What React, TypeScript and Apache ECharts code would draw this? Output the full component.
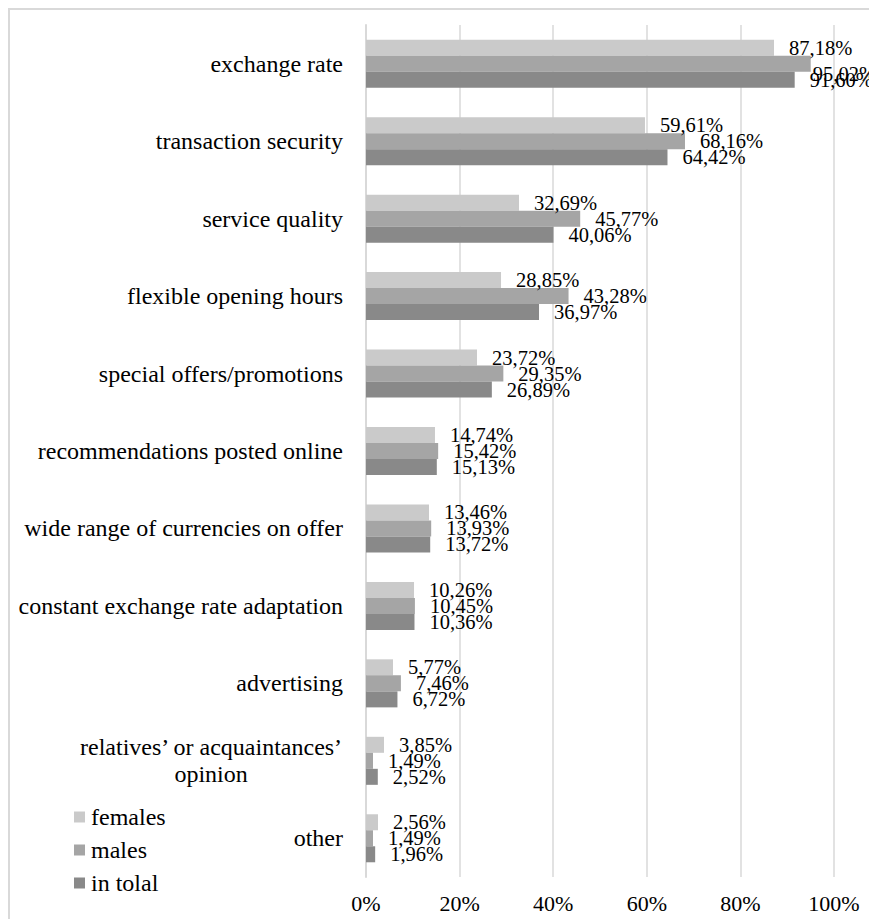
import React, { useEffect, useRef } from "react";
import * as echarts from "echarts";

const categories = [
  "exchange rate",
  "transaction security",
  "service quality",
  "flexible opening hours",
  "special offers/promotions",
  "recommendations posted online",
  "wide range of currencies on offer",
  "constant exchange rate adaptation",
  "advertising",
  "relatives’ or acquaintances’ opinion",
  "other",
];

const females = [87.18, 59.61, 32.69, 28.85, 23.72, 14.74, 13.46, 10.26, 5.77, 3.85, 2.56];
const males = [95.02, 68.16, 45.77, 43.28, 29.35, 15.42, 13.93, 10.45, 7.46, 1.49, 1.49];
const total = [91.6, 64.42, 40.06, 36.97, 26.89, 15.13, 13.72, 10.36, 6.72, 2.52, 1.96];

const xTicks = [0, 20, 40, 60, 80, 100];

const seriesNames = ["females", "males", "in tolal"];
const seriesColors = ["#cacaca", "#a5a5a5", "#898989"];

const FONT = "Times New Roman, Liberation Serif, serif";

export default function App() {
  const ref = useRef<HTMLDivElement>(null);

  useEffect(() => {
    document.documentElement.style.overflow = "hidden";
    if (!ref.current) return;
    const chart = echarts.init(ref.current, undefined, { renderer: "svg" });
    const W = ref.current.clientWidth;
    const values = [females, males, total];
    chart.setOption({
      animation: false,
      backgroundColor: "#ffffff",
      textStyle: { fontFamily: FONT },
      grid: { left: 356, right: 43, top: 15, bottom: 42, containLabel: false },
      legend: {
        orient: "vertical",
        left: 59,
        top: 790,
        itemWidth: 11,
        itemHeight: 11,
        itemGap: 9,
        icon: "rect",
        data: seriesNames,
        textStyle: { fontFamily: FONT, fontSize: 24, color: "#000", padding: [0, 0, 0, 1] },
      },
      xAxis: {
        type: "value",
        min: xTicks[0],
        max: xTicks[xTicks.length - 1],
        interval: 20,
        axisLine: { show: false },
        axisTick: { show: false },
        axisLabel: {
          formatter: "{value}%",
          fontFamily: FONT,
          fontSize: 22,
          color: "#000",
          margin: 15,
        },
        splitLine: { lineStyle: { color: "#d9d9d9", width: 1.5 } },
      },
      yAxis: {
        type: "category",
        inverse: true,
        data: categories,
        axisLine: { show: true, lineStyle: { color: "#d9d9d9", width: 2 } },
        axisTick: { show: false },
        axisLabel: {
          margin: 23,
          fontFamily: FONT,
          fontSize: 24,
          color: "#000",
          formatter: (v: string) => {
            if (v.indexOf("acquaintances’ opinion") >= 0) {
              const i = v.lastIndexOf(" ");
              return "{c|" + v.slice(0, i) + "}\n{c|" + v.slice(i + 1) + "}";
            }
            return v;
          },
          rich: {
            c: {
              align: "center",
              fontFamily: FONT,
              fontSize: 24,
              color: "#000",
              lineHeight: 27,
            },
          },
        },
      },
      series: seriesNames.map((name, si) => ({
        name,
        type: "bar",
        data: values[si],
        barGap: "0%",
        barCategoryGap: "38%",
        itemStyle: { color: seriesColors[si] },
        label: {
          show: true,
          position: "right",
          distance: 15,
          fontFamily: FONT,
          fontSize: 20.5,
          color: "#000",
          formatter: (p: any) => p.value.toFixed(2).replace(".", ",") + "%",
        },
        labelLayout: (params: any) => {
          const r = params.labelRect;
          if (r.x + r.width > W - 1) {
            return { x: W - r.width - 1 };
          }
          return {};
        },
      })),
    });
    return () => chart.dispose();
  }, []);

  return (
    <div
      style={{
        boxSizing: "border-box",
        width: 869,
        height: 911,
        borderTop: "2px solid #d9d9d9",
        borderLeft: "2px solid #d9d9d9",
      }}
    >
      <div ref={ref} style={{ width: 867, height: 909 }} />
    </div>
  );
}
